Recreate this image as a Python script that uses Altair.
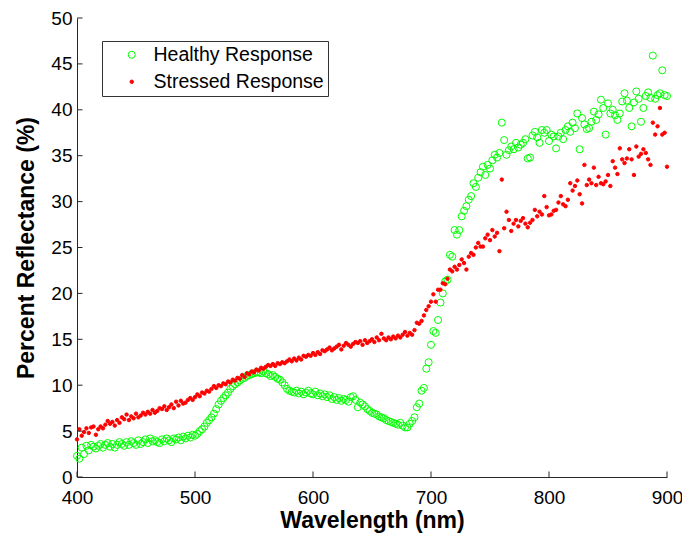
import altair as alt
import pandas as pd

# ---------------- data ----------------
wavelength = list(range(400, 901, 2))

healthy = [
    2.3, 2.0, 3.2, 2.5, 3.4, 2.9, 3.5, 3.3, 3.1, 3.4,
    3.6, 3.2, 3.5, 3.7, 3.3, 3.6, 3.2, 3.5, 3.8, 3.6,
    3.4, 3.8, 3.5, 3.9, 3.7, 3.5, 4.0, 3.6, 3.8, 4.1,
    3.7, 4.2, 3.9, 4.0, 3.8, 3.7, 4.1, 3.9, 4.2, 4.0,
    3.8, 4.2, 4.1, 4.3, 4.0, 4.4, 4.2, 4.5, 4.3, 4.6,
    4.5, 4.7, 5.0, 5.2, 5.5, 5.9, 6.2, 6.5, 6.9, 7.4,
    7.9, 8.3, 8.6, 8.9, 9.2, 9.6, 9.9, 10.1, 10.3, 10.5,
    10.7, 10.8, 11.0, 11.1, 11.2, 11.3, 11.4, 11.4, 11.3, 11.5,
    11.3, 11.2, 11.0, 11.1, 10.9, 10.7, 10.6, 10.3, 10.0, 9.6,
    9.4, 9.3, 9.2, 9.4, 9.1, 9.3, 9.0, 9.2, 9.4, 9.1,
    9.0, 9.3, 8.9, 9.1, 8.8, 9.0, 8.7, 8.9, 8.5, 8.7,
    8.4, 8.6, 8.3, 8.5, 8.4, 8.2, 8.7, 8.8, 8.4, 7.6,
    8.1, 7.9, 7.7, 7.4, 7.2, 7.0, 6.9, 6.8, 6.6, 6.5,
    6.4, 6.2, 6.1, 6.0, 5.9, 5.8, 5.7, 5.9, 5.6, 5.4,
    5.4, 5.8, 6.1, 6.5, 7.6, 8.0, 9.4, 9.7, 11.8, 12.5,
    14.4, 15.9, 15.7, 17.1, 19.0, 20.0, 21.3, 21.5, 24.2, 24.0,
    26.9, 26.4, 26.9, 28.4, 29.0, 29.5, 30.2, 30.6, 32.0, 31.6,
    32.6, 33.2, 33.8, 32.9, 34.0, 33.6, 34.5, 35.1, 34.8, 35.3,
    38.6, 36.7, 35.1, 35.6, 36.0, 35.7, 36.4, 35.9, 36.2, 36.4,
    36.8, 34.7, 34.8, 37.2, 37.6, 37.0, 36.4, 37.8, 37.5, 37.8,
    36.6, 37.3, 37.1, 35.8, 37.1, 37.5, 36.8, 37.8, 38.2, 37.6,
    38.6, 38.0, 39.6, 35.7, 39.1, 38.4, 37.9, 38.0, 38.7, 39.8,
    38.9, 39.5, 41.1, 40.2, 37.3, 40.7, 39.6, 40.0, 39.4, 38.9,
    39.6, 40.9, 41.8, 41.0, 40.2, 38.2, 40.8, 42.0, 41.2, 38.7,
    40.2, 41.5, 41.9, 41.3, 45.9, 41.2, 41.6, 41.8, 44.3, 41.6,
    41.5,
]

stressed = [
    4.1, 5.2, 4.5, 4.9, 5.3, 4.8, 5.4, 5.5, 4.6, 5.2,
    5.5, 5.3, 5.7, 6.1, 5.8, 6.0, 5.6, 6.2, 5.9, 6.5,
    6.3, 6.8, 6.2, 6.6, 6.4, 6.9, 6.5, 6.7, 7.0, 6.8,
    7.1, 6.9, 7.3, 7.0, 7.2, 7.5, 7.4, 7.7, 7.3, 7.6,
    7.9, 7.5, 8.2, 7.8, 8.3, 8.0, 8.1, 8.4, 8.6, 8.4,
    8.7, 9.0, 8.8, 9.2, 9.1, 9.4, 9.3, 9.6, 9.9, 9.7,
    10.0, 9.9, 10.2, 10.1, 10.4, 10.3, 10.6, 10.5, 10.8, 10.7,
    11.1, 10.9, 11.3, 11.2, 11.5, 11.4, 11.7, 11.6, 11.9, 11.8,
    12.0, 12.2, 12.1, 12.3, 12.1, 12.4, 12.3, 12.5, 12.4, 12.6,
    12.8, 12.6, 12.9, 12.7, 13.0, 12.8, 13.2, 13.1, 13.3, 13.2,
    13.5, 13.3, 13.6, 13.4, 13.8, 13.7, 13.9, 14.1, 13.8, 14.0,
    14.2, 14.4, 13.9, 14.3, 14.6, 14.4, 14.2, 14.5, 14.7, 14.6,
    14.8, 14.4, 14.9, 14.6, 14.8, 15.0, 14.7, 15.2, 14.9, 15.6,
    15.1, 14.9, 15.2, 15.0, 15.3, 15.1, 15.4, 15.2, 15.5, 15.8,
    15.4, 15.7, 15.5, 16.0, 16.8, 16.7, 17.0, 17.6, 18.2, 18.6,
    19.1, 19.9, 19.1, 20.4, 20.4, 21.1, 21.0, 21.6, 22.6, 22.4,
    22.9, 22.6, 23.1, 23.7, 23.3, 22.6, 24.0, 24.4, 24.2, 25.0,
    25.5, 25.1, 25.1, 26.0, 26.4, 25.8, 26.9, 26.2, 26.6, 24.6,
    32.4, 27.1, 28.9, 28.0, 26.8, 27.6, 28.0, 27.3, 27.9, 28.2,
    27.6, 27.2, 27.7, 28.0, 29.1, 28.4, 28.9, 28.6, 30.6, 29.4,
    28.5, 28.6, 29.0, 29.1, 29.9, 30.6, 29.7, 29.5, 30.2, 32.0,
    31.2, 31.7, 32.3, 30.8, 29.8, 34.0, 31.8, 32.4, 32.0, 33.7,
    31.8, 32.7, 32.0, 31.9, 32.2, 32.9, 31.7, 34.4, 33.7, 33.0,
    35.8, 34.6, 34.2, 34.7, 35.7, 34.6, 32.9, 36.0, 34.9, 35.2,
    35.7, 35.3, 34.6, 34.0, 38.6, 37.3, 38.2, 40.2, 37.3, 37.5,
    33.8,
]

series_names = ["Healthy Response", "Stressed Response"]
x_ticks = [400, 500, 600, 700, 800, 900]
y_ticks = [0, 5, 10, 15, 20, 25, 30, 35, 40, 45, 50]

df = pd.DataFrame({
    "wavelength": wavelength + wavelength,
    "reflectance": healthy + stressed,
    "series": [series_names[0]] * len(wavelength) + [series_names[1]] * len(wavelength),
})
xt_df = pd.DataFrame({"wavelength": x_ticks})
yt_df = pd.DataFrame({"reflectance": y_ticks})

# ---------------- chart ----------------
FONT = "Liberation Sans"
W, H = 590, 459
AX = "#262626"

xscale = alt.Scale(domain=[400, 900], nice=False, zero=False)
yscale = alt.Scale(domain=[0, 50], nice=False, zero=False)

x_axis = alt.Axis(
    values=x_ticks, ticks=False, tickSize=0, grid=False,
    labelFont=FONT, labelFontSize=19, labelColor="black", labelPadding=11, labelFlush=False,
    domainColor=AX, domainWidth=1,
    title="Wavelength (nm)", titleFont=FONT, titleFontSize=23, titleFontWeight="bold",
    titleColor="black", titleX=W / 2, titleY=50, titleBaseline="alphabetic", titleAlign="center",
)
y_axis = alt.Axis(
    values=y_ticks, ticks=False, tickSize=0, grid=False,
    labelFont=FONT, labelFontSize=19, labelColor="black", labelPadding=5, labelFlush=False,
    domainColor=AX, domainWidth=1,
    title="Percent Reflectance (%)", titleFont=FONT, titleFontSize=23, titleFontWeight="bold",
    titleColor="black", titleX=-44, titleY=H / 2, titleAngle=270,
    titleBaseline="alphabetic", titleAlign="center",
)

legend = alt.Legend(
    title=None, orient="none", legendX=25, legendY=23,
    padding=4, strokeColor="#333333", fillColor="white",
    labelFont=FONT, labelFontSize=19.5, labelColor="black",
    symbolOffset=16, labelOffset=12, rowPadding=6,
    symbolStrokeWidth=1, labelLimit=400,
)

points = alt.Chart(df).mark_point(shape="circle", strokeWidth=1, opacity=1).encode(
    x=alt.X("wavelength:Q", scale=xscale, axis=x_axis),
    y=alt.Y("reflectance:Q", scale=yscale, axis=y_axis),
    stroke=alt.Stroke("series:N", scale=alt.Scale(domain=series_names, range=["#00ff00", "#ff0000"]), legend=legend),
    fill=alt.Fill("series:N", scale=alt.Scale(domain=series_names, range=["transparent", "#ff0000"]), legend=legend),
    size=alt.Size("series:N", scale=alt.Scale(domain=series_names, range=[50, 12]), legend=legend),
    order=alt.Order("series:N", sort="ascending"),
)

xticks = alt.Chart(xt_df).mark_rule(color=AX, strokeWidth=1).encode(
    x=alt.X("wavelength:Q", scale=xscale, axis=x_axis),
    y=alt.value(H),
    y2=alt.value(H - 5.5),
)
yticks = alt.Chart(yt_df).mark_rule(color=AX, strokeWidth=1).encode(
    y=alt.Y("reflectance:Q", scale=yscale, axis=y_axis),
    x=alt.value(0),
    x2=alt.value(5.5),
)

chart = alt.layer(points, xticks, yticks).properties(
    width=W, height=H,
    autosize=alt.AutoSizeParams(type="none"),
    padding={"left": 69, "top": 10, "right": 15, "bottom": 56},
    background="white",
).configure_view(stroke=None)

chart.save("out.html", embed_options={"renderer": "svg", "actions": False})
